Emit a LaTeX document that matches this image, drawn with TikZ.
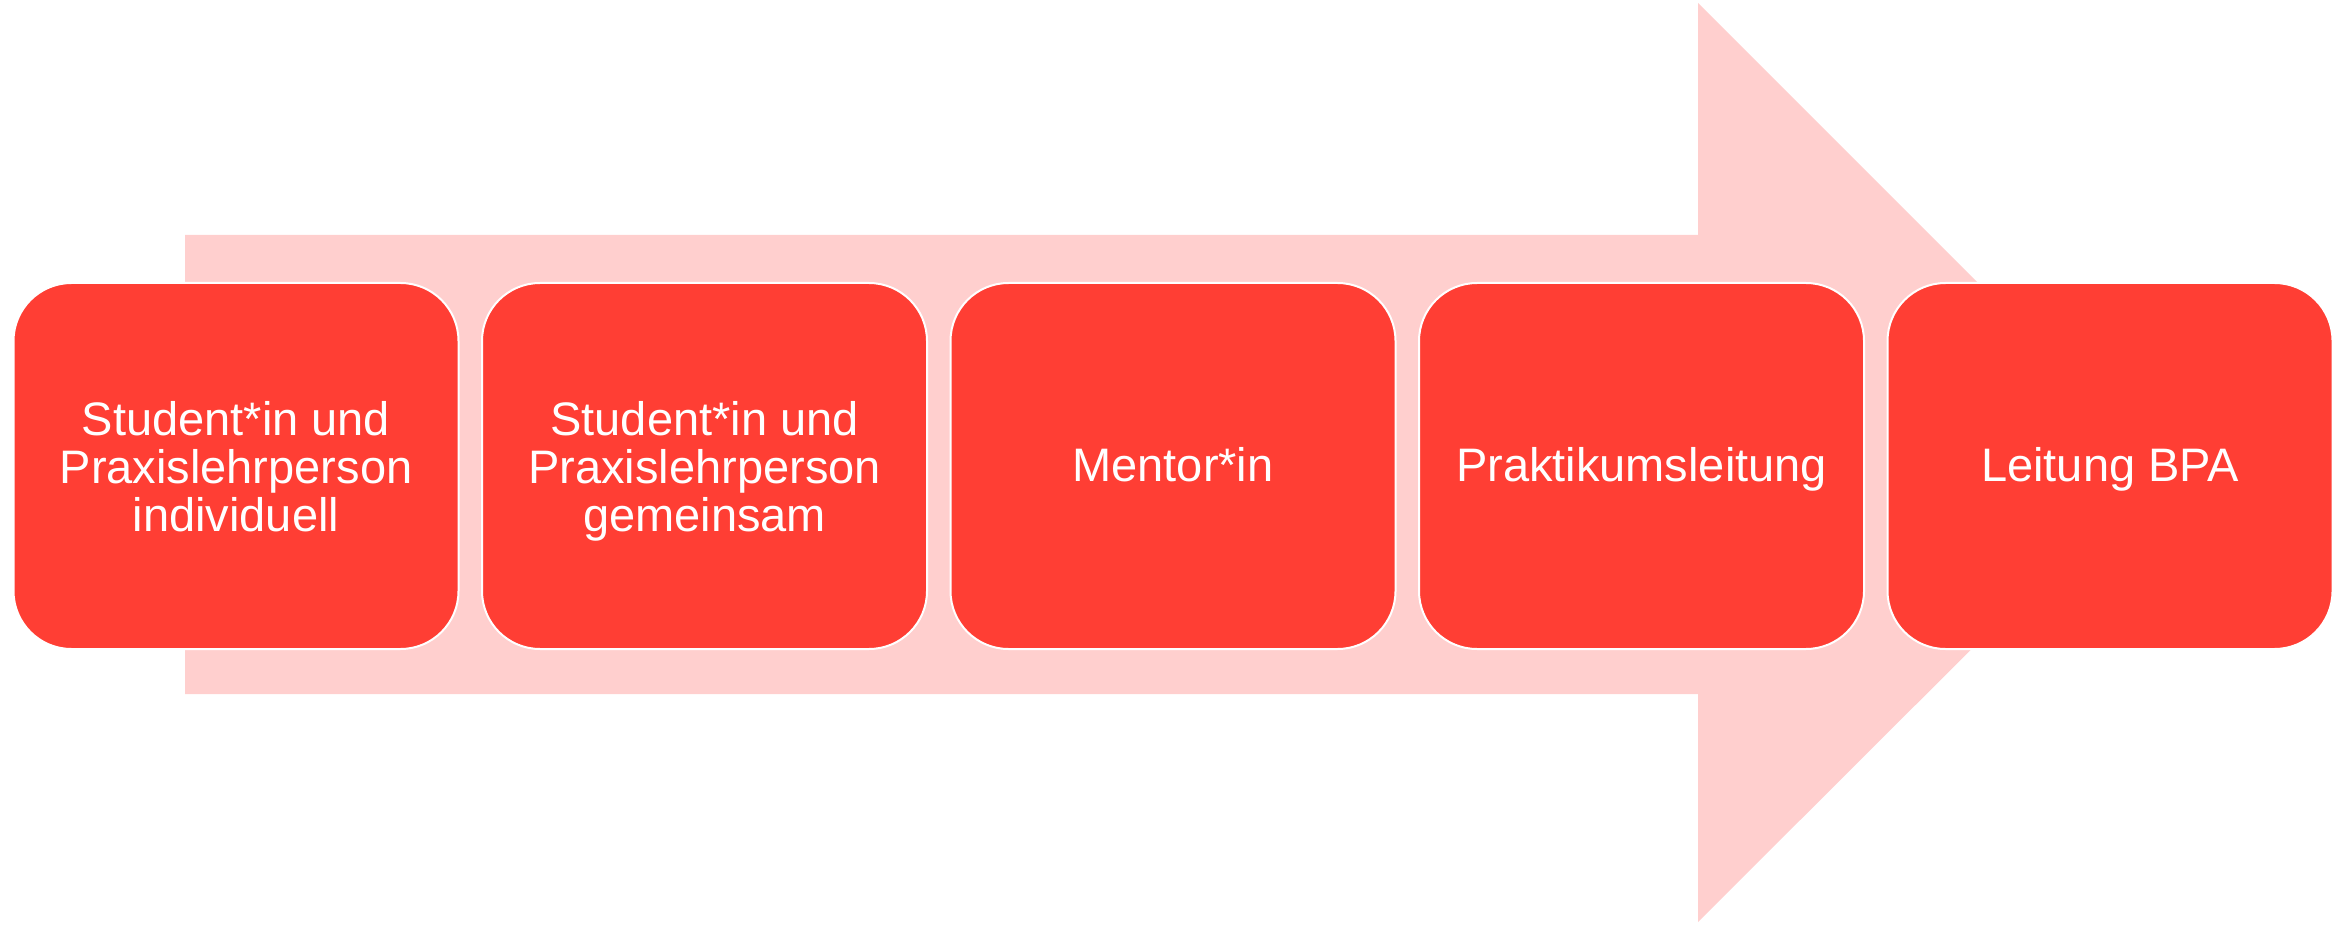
\documentclass[tikz,border=0pt]{standalone}
\usepackage{fontspec}
\setmainfont{Liberation Sans}
\definecolor{boxred}{RGB}{255,62,52}
\definecolor{arrowpink}{RGB}{255,207,206}
\begin{document}
\begin{tikzpicture}[x=1pt,y=-1pt,
  stagebox/.style={draw=white, line width=2pt, fill=boxred, rounded corners=58pt,
    minimum width=445pt, minimum height=366pt, inner sep=0pt, anchor=north west,
    text=white, align=center, font=\fontsize{47}{48}\selectfont,
    text depth=0pt},
  oneline/.style={text height=31pt}]
\useasboundingbox (0,0) rectangle (2348,925);
\fill[arrowpink] (185,235) -- (1698,235) -- (1698,3) -- (2158,463) -- (1698,922) -- (1698,694) -- (185,694) -- cycle;
\node[stagebox] (s1) at (12.5,282) {Student*in und\\Praxislehrperson\\individuell};
\node[stagebox] (s2) at (481,282) {Student*in und\\Praxislehrperson\\gemeinsam};
\node[stagebox, oneline] (s3) at (949.5,282) {Mentor*in};
\node[stagebox, oneline] (s4) at (1418,282) {Praktikumsleitung};
\node[stagebox, oneline] (s5) at (1886.5,282) {Leitung BPA};
\end{tikzpicture}
\end{document}
